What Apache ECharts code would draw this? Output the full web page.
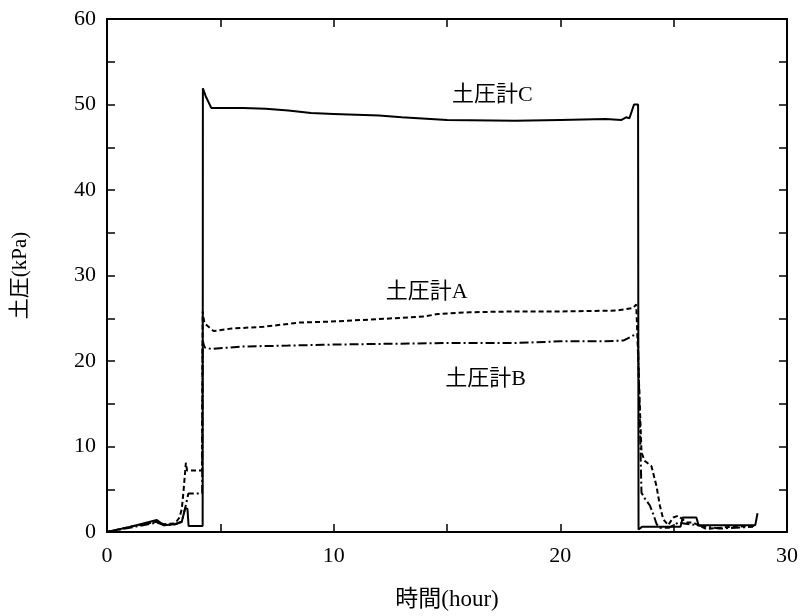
<!DOCTYPE html>
<html>
<head>
<meta charset="utf-8">
<script src="https://cdn.jsdelivr.net/npm/echarts@6/dist/echarts.min.js"></script>
<style>html,body{margin:0;padding:0;background:#fff}#c{width:804px;height:616px}</style>
</head>
<body>
<div id="c"></div>
<script>
// 土圧計C (solid)
const tC = [0, 1.0, 2.2, 2.5, 3.0, 3.3, 3.45, 3.55, 3.6, 4.22, 4.23, 4.35, 4.6, 6.0, 7.0, 8.0, 9.0, 10.0, 12.0, 13.0, 15.0, 18.0, 20.0, 22.0, 22.7, 22.9, 23.05, 23.25, 23.43, 23.45, 23.6, 25.3, 25.4, 26.0, 26.1, 28.6, 28.7];
const vC = [0, 0.6, 1.4, 0.8, 0.9, 1.2, 2.8, 2.7, 0.7, 0.7, 51.9, 51.0, 49.6, 49.6, 49.5, 49.3, 49.0, 48.9, 48.7, 48.5, 48.2, 48.1, 48.2, 48.3, 48.2, 48.5, 48.4, 50.0, 50.0, 0.3, 0.6, 0.6, 1.7, 1.7, 0.8, 0.8, 2.2];
// 土圧計A (dashed)
const tA = [0, 1.0, 2.2, 2.5, 3.0, 3.2, 3.3, 3.37, 3.48, 3.53, 4.19, 4.22, 4.3, 4.7, 5.5, 6.9, 8.5, 9.8, 12.0, 14.0, 14.6, 16.0, 18.0, 20.0, 22.5, 23.2, 23.35, 23.42, 23.58, 23.73, 24.02, 24.24, 24.39, 24.54, 24.76, 24.98, 25.2, 25.57, 25.86, 26.16, 26.45, 27.5, 28.6];
const vA = [0, 0.6, 1.2, 0.9, 1.0, 1.7, 2.7, 4.6, 8.1, 7.2, 7.2, 25.8, 24.4, 23.5, 23.8, 24.0, 24.5, 24.6, 24.9, 25.2, 25.5, 25.7, 25.8, 25.8, 25.9, 26.2, 26.6, 26.6, 9.3, 8.3, 7.7, 5.4, 3.1, 1.5, 0.8, 1.7, 1.9, 1.1, 1.1, 0.7, 0.35, 0.6, 0.7];
// 土圧計B (dash-dot)
const tB = [0, 1.0, 2.2, 2.5, 3.0, 3.3, 3.44, 3.59, 4.2, 4.22, 4.3, 4.6, 6.0, 8.0, 9.5, 12.0, 15.0, 18.0, 20.0, 22.0, 22.8, 23.3, 23.42, 23.58, 23.73, 23.95, 24.1, 24.25, 24.4, 24.8, 25.2, 26.0, 27.0, 28.5];
const vB = [0, 0.5, 1.1, 0.8, 0.9, 1.2, 2.7, 4.5, 4.5, 22.4, 21.6, 21.4, 21.7, 21.8, 21.9, 22.0, 22.1, 22.1, 22.3, 22.3, 22.4, 23.1, 23.1, 4.6, 3.9, 3.1, 2.1, 0.9, 0.5, 0.5, 1.1, 0.8, 0.4, 0.6];

const xTicks = [0, 10, 20, 30];
const yTicks = [0, 10, 20, 30, 40, 50, 60];
const labelNames = ['土圧計A', '土圧計B', '土圧計C'];
const labelPos = [[14.1, 28.1], [16.7, 17.9], [17.0, 51.1]];

const FONT = "'Liberation Serif', 'Noto Sans CJK JP', serif";
const zip = (t, v) => t.map((x, i) => [x, v[i]]);

function mp(i) {
  return {
    symbol: 'circle',
    symbolSize: 1,
    silent: true,
    itemStyle: { color: 'rgba(0,0,0,0)' },
    data: [{ coord: labelPos[i], value: labelNames[i] }],
    label: { show: true, position: 'inside', formatter: labelNames[i], color: '#000', fontFamily: FONT, fontSize: 22 }
  };
}

function axisCommon() {
  return {
    axisLine: { show: true, onZero: false, lineStyle: { color: '#000', width: 2 } },
    axisTick: { show: true, inside: true, length: 8, lineStyle: { color: '#000', width: 1.5 } },
    minorTick: { show: true, splitNumber: 2, length: 8, lineStyle: { color: '#000', width: 1.5 } },
    splitLine: { show: false }
  };
}

const chart = echarts.init(document.getElementById('c'), null, { renderer: 'canvas' });
chart.setOption({
  animation: false,
  backgroundColor: '#fff',
  grid: { left: 107, right: 17, top: 19, bottom: 83 },
  xAxis: [
    Object.assign({
      type: 'value', min: 0, max: 30, interval: 10, position: 'bottom',
      name: '時間(hour)', nameLocation: 'middle', nameGap: 56,
      nameTextStyle: { fontFamily: FONT, fontSize: 23, color: '#000' },
      axisLabel: { fontFamily: FONT, fontSize: 22, color: '#000', margin: 13, formatter: v => xTicks.includes(v) ? String(v) : '' }
    }, axisCommon()),
    Object.assign({
      type: 'value', min: 0, max: 30, interval: 10, position: 'top', axisLabel: { show: false }
    }, axisCommon())
  ],
  yAxis: [
    Object.assign({
      type: 'value', min: 0, max: 60, interval: 10, position: 'left',
      name: '土圧(kPa)', nameLocation: 'middle', nameGap: 76, nameRotate: 90,
      nameTextStyle: { fontFamily: FONT, fontSize: 21, color: '#000' },
      axisLabel: { fontFamily: FONT, fontSize: 22, color: '#000', margin: 11, formatter: v => yTicks.includes(v) ? String(v) : '' }
    }, axisCommon()),
    Object.assign({
      type: 'value', min: 0, max: 60, interval: 10, position: 'right', axisLabel: { show: false }
    }, axisCommon())
  ],
  series: [
    { name: labelNames[0], type: 'line', data: zip(tA, vA), showSymbol: false, symbol: 'none',
      lineStyle: { color: '#000', width: 2, type: [5, 3] }, markPoint: mp(0) },
    { name: labelNames[1], type: 'line', data: zip(tB, vB), showSymbol: false, symbol: 'none',
      lineStyle: { color: '#000', width: 2, type: [9, 3, 2, 3] }, markPoint: mp(1) },
    { name: labelNames[2], type: 'line', data: zip(tC, vC), showSymbol: false, symbol: 'none',
      lineStyle: { color: '#000', width: 2, type: 'solid' }, markPoint: mp(2) }
  ]
});
</script>
</body>
</html>
